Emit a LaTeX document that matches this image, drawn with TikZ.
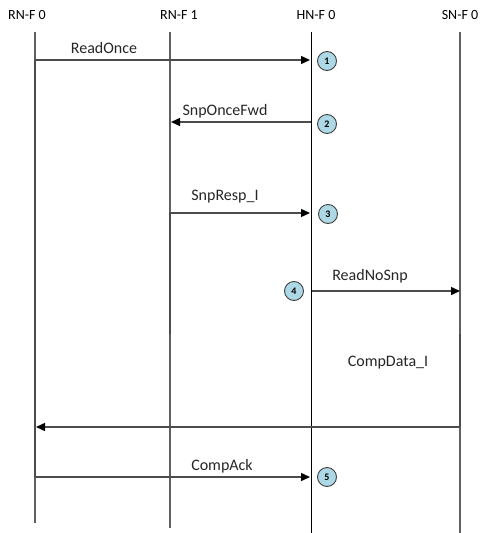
\documentclass[tikz,border=0pt]{standalone}
\usepackage{fontspec}
\setmainfont{Carlito}
\usetikzlibrary{arrows.meta}
\definecolor{markfill}{HTML}{ADD8E6}
\begin{document}
\begin{tikzpicture}[x=1pt,y=-1pt,
  lifeline/.style={draw=gray!75!black,line width=1.2pt},
  active/.style={draw=black!70,line width=1.8pt},
  hnline/.style={draw=black,line width=1pt},
  msg/.style={draw=black!70,line width=1.4pt,-{Triangle[length=9pt,width=8pt,color=black]}},
  hdr/.style={font=\fontsize{14}{16}\selectfont,inner sep=0pt},
  lbl/.style={font=\fontsize{16}{18}\selectfont,inner sep=0pt,text=black!85},
  stepnum/.style={circle,draw=black!75,line width=0.9pt,fill=markfill,
    minimum size=19pt,inner sep=0pt,font=\fontsize{10}{11}\selectfont\bfseries}]
\useasboundingbox (0,0) rectangle (481,533);

% column headers
\node[hdr] (h0) at (27,15) {RN-F 0};
\node[hdr] (h1) at (179,15) {RN-F 1};
\node[hdr] (h2) at (316,15) {HN-F 0};
\node[hdr] (h3) at (460,15) {SN-F 0};

% lifeline end points
\coordinate (a0) at (35,32);  \coordinate (b0) at (35,523);
\coordinate (a1) at (170,32); \coordinate (b1) at (170,528);
\coordinate (a2) at (311,32); \coordinate (b2) at (311,533);
\coordinate (a3) at (460,32); \coordinate (b3) at (460,533);

\draw[lifeline] (a0) -- (b0);
\draw[lifeline] (a1) -- (b1);
\draw[hnline] (a2) -- (b2);
\draw[lifeline] (a3) -- (b3);

% activation segments
\coordinate (r0s) at (35,60);   \coordinate (r0e) at (35,477);
\coordinate (r1s) at (170,212); \coordinate (r1e) at (170,334);
\coordinate (s0s) at (460,334); \coordinate (s0e) at (460,427);
\draw[active] (r0s) -- (r0e);
\draw[active] (r1s) -- (r1e);
\draw[active] (s0s) -- (s0e);

% message end points
\coordinate (m1a) at (35,60);   \coordinate (m1b) at (310,60);
\coordinate (m2a) at (311,122); \coordinate (m2b) at (171,122);
\coordinate (m3a) at (170,213); \coordinate (m3b) at (310,213);
\coordinate (m4a) at (312,291); \coordinate (m4b) at (460,291);
\coordinate (m5a) at (460,427); \coordinate (m5b) at (36,427);
\coordinate (m6a) at (35,477);  \coordinate (m6b) at (310,477);

\draw[msg] (m1a) -- (m1b);
\draw[msg] (m2a) -- (m2b);
\draw[msg] (m3a) -- (m3b);
\draw[msg] (m4a) -- (m4b);
\draw[msg] (m5a) -- (m5b);
\draw[msg] (m6a) -- (m6b);

% message labels
\node[lbl] (l1) at (104,48)  {ReadOnce};
\node[lbl] (l2) at (225,111) {SnpOnceFwd};
\node[lbl] (l3) at (225,197) {SnpResp\_I};
\node[lbl] (l4) at (370,276) {ReadNoSnp};
\node[lbl] (l5) at (388,363) {CompData\_I};
\node[lbl] (l6) at (222,466) {CompAck};

% step markers
\node[stepnum] (n1) at (327,61)  {1};
\node[stepnum] (n2) at (327,124) {2};
\node[stepnum] (n3) at (328,214) {3};
\node[stepnum] (n4) at (294,291) {4};
\node[stepnum] (n5) at (327,477) {5};
\end{tikzpicture}
\end{document}
